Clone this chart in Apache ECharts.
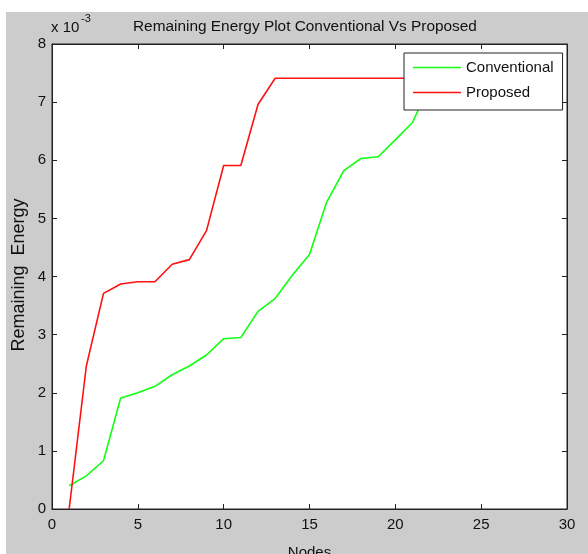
<!DOCTYPE html>
<html><head><meta charset="utf-8">
<script src="https://cdn.jsdelivr.net/npm/echarts@6/dist/echarts.min.js"></script>
<style>html,body{margin:0;padding:0;background:#fff}#c{width:588px;height:554px}</style>
</head><body><div id="c"></div>
<script>
const nodes = [1,2,3,4,5,6,7,8,9,10,11,12,13,14,15,16,17,18,19,20,21,22,23,24,25,26,27,28];
const conventional = [0.40,0.57,0.83,1.91,2.00,2.11,2.31,2.46,2.65,2.93,2.95,3.40,3.62,4.02,4.38,5.28,5.82,6.03,6.06,6.35,6.65,7.30,7.41,7.41,7.41,7.41,7.41,7.41];
const proposed = [0.00,2.46,3.71,3.87,3.91,3.91,4.21,4.29,4.79,5.91,5.91,6.96,7.41,7.41,7.41,7.41,7.41,7.41,7.41,7.41,7.41,7.41,7.41,7.41,7.41,7.41,7.41,7.41];
const xTicks = [0,5,10,15,20,25,30];
const yTicks = [0,1,2,3,4,5,6,7,8];

const FONT = 'Liberation Sans';
const TXT = '#111';
const toPairs = arr => nodes.map((n,i)=>[n, arr[i]]);
const chart = echarts.init(document.getElementById('c'), null, {renderer:'canvas'});
const axisCommon = {
  axisLine:{show:true, onZero:false, lineStyle:{color:'#222', width:1}},
  axisTick:{show:true, inside:true, length:5, lineStyle:{color:'#222'}},
  splitLine:{show:false}
};
chart.setOption({
  animation:false,
  graphic:[
    {type:'rect', shape:{x:6,y:12,width:582,height:542}, style:{fill:'#cccccc'}, z:-10},
    {type:'text', left:51, top:20, style:{text:'x 10', font:'15px "'+FONT+'"', fill:TXT}},
    {type:'text', left:81, top:13, style:{text:'-3', font:'11px "'+FONT+'"', fill:TXT}},
    {type:'text', x:19, y:275, rotation:Math.PI/2,
      style:{text:'Remaining  Energy', font:'18px "'+FONT+'"', fill:TXT, align:'center', verticalAlign:'middle'}}
  ],
  title:{text:'Remaining Energy Plot Conventional Vs Proposed', left:128, top:14,
    textStyle:{fontFamily:FONT, fontSize:15.4, fontWeight:'normal', color:TXT}},
  legend:{
    data:['Conventional','Proposed'], orient:'vertical', left:404, top:53,
    padding:[7,9,10,9], itemGap:10, itemWidth:48, itemHeight:14,
    backgroundColor:'#fff', borderColor:'#222', borderWidth:1, borderRadius:0,
    icon:'path://M0,6L48,6L48,7.6L0,7.6Z',
    textStyle:{fontFamily:FONT, fontSize:15, color:TXT}
  },
  grid:{left:52, top:44, width:515, height:465, show:true, backgroundColor:'#fff', borderColor:'#222', borderWidth:1,
    outerBoundsMode:'none', containLabel:false},
  xAxis:[
    Object.assign({type:'value', min:0, max:30, interval:5, position:'bottom',
      name:'Nodes', nameLocation:'middle', nameGap:36,
      nameTextStyle:{fontFamily:FONT, fontSize:15, color:TXT},
      axisLabel:{fontFamily:FONT, fontSize:15, color:TXT, margin:8}}, axisCommon),
    Object.assign({type:'value', min:0, max:30, interval:5, position:'top', axisLabel:{show:false}}, axisCommon)
  ],
  yAxis:[
    Object.assign({type:'value', min:0, max:8, interval:1, position:'left',
      axisLabel:{fontFamily:FONT, fontSize:15, color:TXT, margin:6}}, axisCommon),
    Object.assign({type:'value', min:0, max:8, interval:1, position:'right', axisLabel:{show:false}}, axisCommon)
  ],
  series:[
    {name:'Conventional', type:'line', data:toPairs(conventional), showSymbol:false, symbol:'none',
      lineStyle:{color:'#11ff11', width:1.6}, itemStyle:{color:'#11ff11'}},
    {name:'Proposed', type:'line', data:toPairs(proposed), showSymbol:false, symbol:'none',
      lineStyle:{color:'#ff1111', width:1.6}, itemStyle:{color:'#ff1111'}}
  ]
});
</script></body></html>
